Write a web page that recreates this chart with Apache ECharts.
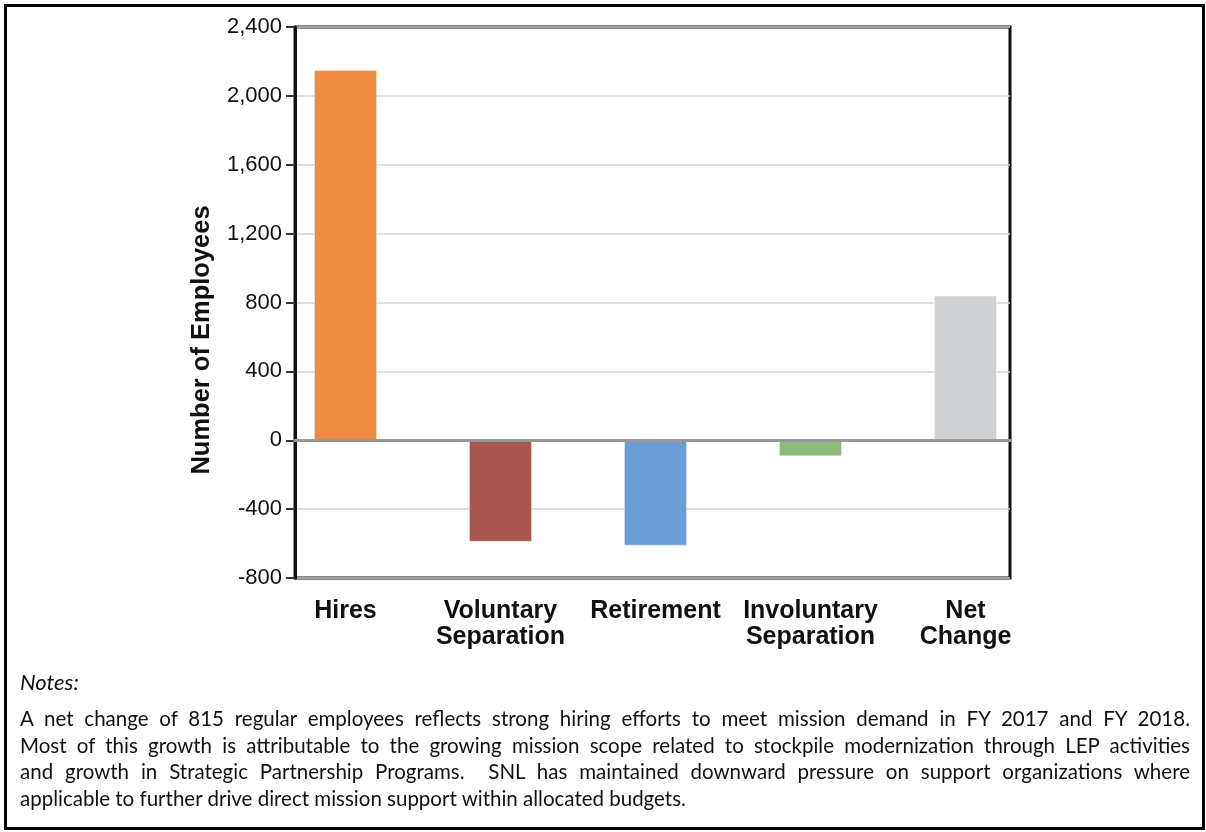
<!DOCTYPE html>
<html>
<head>
<meta charset="utf-8">
<script src="https://cdn.jsdelivr.net/npm/echarts@6/dist/echarts.min.js"></script>
<style>
  html, body { margin: 0; padding: 0; background: #fff; }
  #wrap { position: relative; width: 1206px; height: 832px; overflow: hidden; }
  #chart { position: absolute; left: 0; top: 0; width: 1206px; height: 832px; }
  #frame { position: absolute; left: 4px; top: 4px; width: 1195px; height: 820px; border: 3px solid #000; pointer-events: none; }
  #notes { position: absolute; left: 20px; top: 667px; width: 1170px; font-family: Lato, "Open Sans", sans-serif; color: #111; font-size: 20.5px; }
  #notes .title { font-style: italic; font-size: 22px; line-height: 30px; margin-bottom: 8px; }
  #notes .line { line-height: 26.5px; text-align: justify; text-align-last: justify; white-space: nowrap; }
  #notes .line.last { text-align-last: left; }
</style>
</head>
<body>
<div id="wrap">
  <div id="chart"></div>
  <div id="frame"></div>
  <div id="notes">
    <div class="title">Notes:</div>
    <div class="line">A net change of 815 regular employees reflects strong hiring efforts to meet mission demand in FY 2017 and FY 2018.</div>
    <div class="line">Most of this growth is attributable to the growing mission scope related to stockpile modernization through LEP activities</div>
    <div class="line">and growth in Strategic Partnership Programs.&nbsp; SNL has maintained downward pressure on support organizations where</div>
    <div class="line last">applicable to further drive direct mission support within allocated budgets.</div>
  </div>
</div>
<script>
const categories = ['Hires', 'Voluntary\nSeparation', 'Retirement', 'Involuntary\nSeparation', 'Net\nChange'];
const values = [2150, -590, -612, -93, 840];
const barColors = ['#EE8B40', '#A9574E', '#6A9DD6', '#8DBB7A', '#D0D1D3'];
const yTicks = { min: -800, max: 2400, interval: 400 };
const yAxisTitle = 'Number of Employees';

const chart = echarts.init(document.getElementById('chart'), null, { renderer: 'canvas' });

const fmt = v => v.toLocaleString('en-US');

chart.setOption({
  animation: false,
  backgroundColor: 'transparent',
  grid: [
    { left: 295, right: 196, top: 27, bottom: 254, show: true, borderColor: '#111', borderWidth: 3, backgroundColor: 'transparent' },
    { left: 268, right: 163, top: 27, bottom: 254 }
  ],
  xAxis: [
    {
      type: 'category', gridIndex: 0, data: categories, z: 5,
      axisLine: { show: true, onZero: true, lineStyle: { color: '#999', width: 3 } },
      axisTick: { show: false }, axisLabel: { show: false }, splitLine: { show: false }
    },
    {
      type: 'category', gridIndex: 1, data: categories,
      axisLine: { show: false }, axisTick: { show: false }, splitLine: { show: false },
      axisLabel: {
        margin: 20, color: '#111', fontFamily: '"Liberation Sans", Arial, sans-serif',
        fontWeight: 'bold', fontSize: 25, lineHeight: 26, interval: 0, align: 'center'
      }
    }
  ],
  yAxis: [
    {
      type: 'value', gridIndex: 0, min: yTicks.min, max: yTicks.max, interval: yTicks.interval,
      axisLine: { show: true, lineStyle: { color: '#111', width: 3 } },
      axisTick: { show: true, inside: false, length: 9, lineStyle: { color: '#333', width: 2 } },
      axisLabel: { margin: 13, color: '#111', fontSize: 22, fontFamily: '"Liberation Sans", Arial, sans-serif', formatter: fmt },
      splitLine: { show: true, lineStyle: { color: '#d4d4d4', width: 1.5 } }
    },
    {
      type: 'value', gridIndex: 1, min: yTicks.min, max: yTicks.max, interval: yTicks.interval, show: false,
      splitLine: { show: false }
    }
  ],
  graphic: [
    {
      type: 'text', x: 202, y: 340, rotation: Math.PI / 2, z: 10,
      style: {
        text: yAxisTitle, fill: '#111', fontSize: 25.5, fontWeight: 'bold',
        fontFamily: '"Liberation Sans", Arial, sans-serif', align: 'center', verticalAlign: 'middle'
      }
    }
  ],
  series: [
    {
      type: 'bar', xAxisIndex: 1, yAxisIndex: 1, barWidth: 63,
      data: values.map((v, i) => ({
        value: v,
        itemStyle: { color: barColors[i], borderColor: 'rgba(255,255,255,0.35)', borderWidth: 1 }
      }))
    }
  ]
});
</script>
</body>
</html>
